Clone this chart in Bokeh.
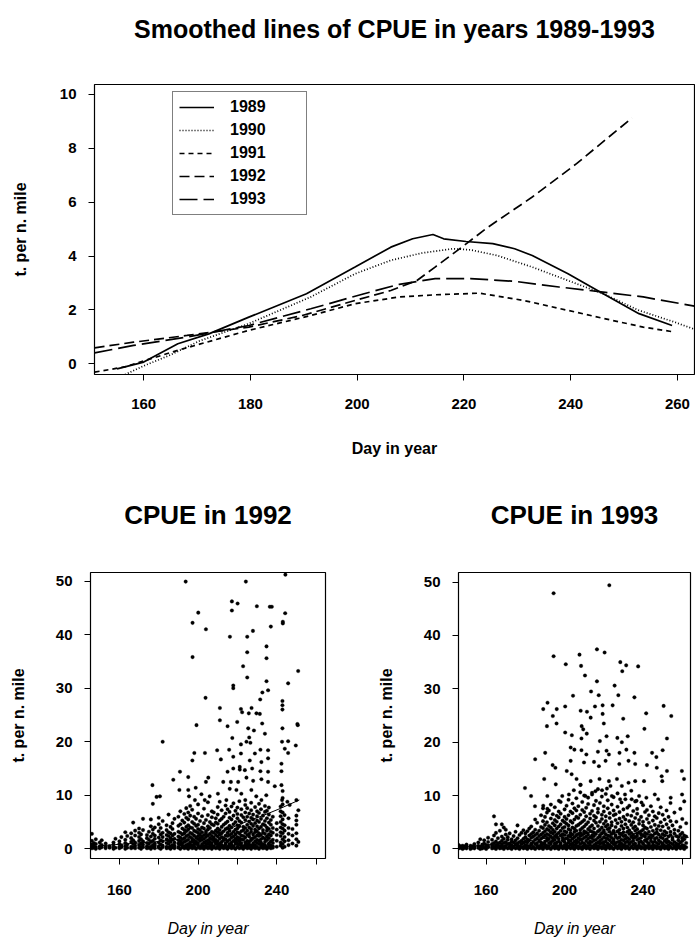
from bokeh.plotting import figure
from bokeh.layouts import column, row
from bokeh.models import Legend, LegendItem, FixedTicker, Title
from bokeh.embed import file_html
from bokeh.resources import INLINE

FONT = "Liberation Sans"

# ---------------- smoothed CPUE curves (top panel) ----------------
day_1989 = [155.0, 160.0, 166.4, 172.2, 179.7, 190.5, 199.6, 206.3, 210.4, 214.2, 216.2, 220.4, 225.4, 229.5, 232.8, 239.5, 246.1, 252.8, 259.0]
cpue_1989 = [-0.19, 0.06, 0.74, 1.11, 1.73, 2.60, 3.59, 4.33, 4.64, 4.80, 4.64, 4.54, 4.46, 4.27, 4.02, 3.34, 2.60, 1.86, 1.42]

day_1990 = [156.0, 160.0, 164.7, 170.5, 179.7, 191.3, 199.6, 206.3, 212.1, 217.9, 221.2, 226.2, 232.8, 239.5, 246.1, 252.8, 259.4, 263.2]
cpue_1990 = [-0.45, -0.08, 0.30, 0.85, 1.49, 2.48, 3.34, 3.84, 4.11, 4.27, 4.23, 4.02, 3.59, 3.09, 2.60, 1.98, 1.55, 1.28]

day_1991 = [150.8, 156.4, 166.4, 179.7, 191.3, 199.6, 207.9, 214.6, 222.9, 231.2, 239.5, 247.8, 253.6, 259.4]
cpue_1991 = [-0.31, -0.12, 0.50, 1.24, 1.79, 2.23, 2.48, 2.56, 2.62, 2.35, 1.98, 1.61, 1.36, 1.18]

day_1992 = [150.8, 158.1, 168.1, 179.7, 189.7, 199.6, 206.3, 211.2, 214.6, 219.6, 224.5, 232.8, 241.1, 251.5]
cpue_1992 = [0.59, 0.80, 1.05, 1.36, 1.79, 2.35, 2.72, 3.09, 3.59, 4.33, 5.07, 6.19, 7.43, 9.13]

day_1993 = [150.8, 158.1, 168.1, 179.7, 191.3, 201.3, 207.9, 214.6, 221.2, 229.5, 237.8, 246.1, 253.6, 263.2]
cpue_1993 = [0.40, 0.68, 0.99, 1.42, 2.04, 2.60, 2.95, 3.16, 3.16, 3.06, 2.85, 2.66, 2.48, 2.14]

years = ["1989", "1990", "1991", "1992", "1993"]
dashes = ["solid", "1 2", "5 4", "10 5", "18 6"]

top_x_ticks = [160, 180, 200, 220, 240, 260]
top_y_ticks = [0, 2, 4, 6, 8, 10]
bottom_x_ticks = [160, 180, 200, 220, 240, 260]
bottom_x_labelled = [160, 200, 240]
bottom_y_ticks = [0, 10, 20, 30, 40, 50]

# ---------------- observed CPUE, 1992 ----------------
sparse_1992 = [
    (193.7, 49.9), (224.3, 49.9), (244.4, 51.2), (217.2, 46.2), (220.1, 45.8), (229.9, 45.3), (236.5, 45.2),
    (237.5, 45.2), (217.2, 44.5), (200.1, 44.1), (244.3, 44.0), (197.2, 42.2), (243.1, 42.4), (243.1, 42.1),
    (204.0, 41.0), (237.0, 41.5), (227.9, 40.7), (216.2, 39.6), (225.0, 39.6), (234.8, 37.8), (225.0, 36.7),
    (197.2, 35.8), (234.8, 35.6), (222.9, 34.1), (250.9, 33.2), (225.0, 32.0), (234.8, 31.3), (245.8, 30.9),
    (217.9, 30.5), (217.9, 30.0), (235.6, 29.6), (232.7, 29.2), (203.8, 28.2), (231.6, 27.9), (242.9, 27.6),
    (242.9, 26.8), (242.9, 26.0), (211.1, 26.3), (221.8, 26.1), (222.4, 25.5), (227.2, 26.3), (225.8, 25.3),
    (229.7, 25.3), (231.4, 25.2), (211.1, 24.0), (199.2, 23.1), (215.0, 22.9), (219.9, 23.7), (225.5, 22.5),
    (228.4, 22.1), (232.6, 23.4), (234.0, 21.5), (250.5, 23.3), (242.9, 22.5), (182.0, 20.0), (217.4, 20.7),
    (226.0, 20.8), (221.8, 19.5), (224.6, 20.0), (226.6, 19.8), (242.7, 20.0), (245.8, 20.1), (244.1, 18.7),
    (245.8, 17.9), (249.7, 19.3), (198.1, 17.9), (203.5, 17.9), (197.1, 16.5), (209.7, 18.4), (215.8, 18.5),
    (211.6, 16.7), (217.9, 17.2), (221.8, 17.8), (228.9, 17.8), (231.7, 18.5), (235.6, 18.4), (226.3, 16.5),
    (235.6, 16.9), (232.2, 16.2), (242.4, 15.9), (190.8, 14.4), (215.0, 14.4), (217.9, 15.0), (221.2, 14.8),
    (221.2, 15.3), (223.8, 14.7), (227.5, 15.0), (231.7, 14.5), (235.6, 14.4), (242.4, 14.5), (187.4, 12.9),
    (176.8, 11.9), (195.0, 13.4), (204.0, 12.5), (205.2, 13.3), (212.8, 12.5), (216.7, 12.5), (220.4, 12.5),
    (224.6, 13.3), (228.0, 12.7), (232.2, 13.0), (235.6, 12.5), (239.0, 11.7), (242.4, 11.9), (178.9, 9.7),
    (180.6, 9.8), (190.5, 11.0), (195.0, 11.0), (198.8, 11.4), (195.4, 9.8), (198.4, 9.1), (201.7, 10.2),
    (203.4, 9.1), (205.9, 9.8), (210.1, 10.3), (214.4, 9.1), (216.1, 11.2), (219.5, 11.0), (222.0, 10.3),
    (224.0, 9.1), (227.1, 11.0), (229.6, 9.8), (232.2, 9.1), (234.7, 10.0), (242.7, 9.1), (245.4, 8.8),
    (250.0, 9.1), (246.6, 8.2), (250.7, 23.1),
]

dense_1992 = [
    (146, [0.1, 0.4, 0.8, 1.5, 2.8]), (147, [0.2, 0.6, 1.1]), (148, [0.0, 0.3, 0.9, 1.8]),
    (150, [0.1, 0.5, 1.2]), (151, [0.3, 0.7, 1.6]), (153, [0.1, 0.4, 1.0]), (155, [0.2, 0.5]),
    (157, [0.0, 0.3, 0.8, 1.2]), (158, [0.2, 1.9]), (160, [0.1, 0.4, 0.9, 1.4]), (161, [0.3, 0.6, 2.2]),
    (163, [0.0, 0.5, 1.1, 1.7, 3.1]), (164, [0.2, 0.8, 2.4]), (166, [0.1, 0.4, 1.3, 2.0, 2.9]),
    (167, [0.3, 0.9, 1.6, 4.9]), (168, [0.1, 0.6, 1.2, 2.5, 3.4]), (170, [0.2, 0.7, 1.5, 2.2, 3.0, 3.8]),
    (171, [0.0, 0.4, 1.0, 1.8, 2.7]), (172, [0.3, 0.8, 1.4, 3.5, 5.6]), (174, [0.1, 0.5, 1.1, 2.0, 2.6]),
    (175, [0.2, 0.9, 1.7, 3.2]), (176, [0.0, 0.4, 1.3, 2.3, 4.2, 5.5]), (177, [0.3, 0.7, 1.5, 2.8, 3.6, 8.4]),
    (178, [0.1, 0.6, 1.0, 1.9, 2.5, 4.0]), (180, [0.2, 0.5, 1.2, 2.1, 3.3, 4.6, 5.8]),
    (181, [0.0, 0.8, 1.6, 2.7, 3.9]), (182, [0.3, 0.6, 1.4, 2.2, 3.0, 5.2]),
    (184, [0.1, 0.4, 1.1, 1.8, 2.6, 3.5, 4.4]), (185, [0.2, 0.9, 1.5, 2.4, 3.1, 6.4]),
    (186, [0.0, 0.5, 1.3, 2.0, 2.9, 4.1]), (187, [0.3, 0.7, 1.7, 2.5, 3.7, 4.8]),
    (188, [0.1, 0.6, 1.2, 1.9, 2.8, 5.6]), (190, [0.2, 0.4, 1.0, 1.6, 2.3, 3.2, 4.3, 6.0]),
    (191, [0.0, 0.8, 1.4, 2.1, 3.0, 4.6, 7.0]), (192, [0.3, 0.6, 1.1, 1.8, 2.7, 3.8, 5.3]),
    (193, [0.1, 0.5, 1.3, 2.0, 2.9, 3.5, 4.9, 6.5]), (194, [0.2, 0.7, 1.5, 2.4, 3.3, 4.1, 5.8, 7.6]),
    (195, [0.0, 0.4, 0.9, 1.7, 2.6, 3.6, 4.4, 5.5, 6.8]), (196, [0.3, 0.8, 1.2, 2.2, 3.0, 4.0, 6.2, 8.0]),
    (197, [0.1, 0.6, 1.4, 1.9, 2.8, 3.9, 5.0, 7.3]), (198, [0.2, 0.5, 1.0, 1.6, 2.5, 3.4, 4.7, 6.0]),
    (199, [0.0, 0.9, 1.3, 2.1, 3.2, 4.3, 5.6]), (200, [0.3, 0.7, 1.1, 1.8, 2.4, 3.0, 3.7, 4.5, 6.6, 8.3]),
    (201, [0.1, 0.4, 1.5, 2.0, 2.7, 3.5, 5.2]), (202, [0.2, 0.6, 0.9, 1.7, 2.3, 3.1, 4.0, 6.1]),
    (203, [0.0, 0.5, 1.2, 1.9, 2.6, 3.8, 4.8, 7.5]), (204, [0.3, 0.8, 1.4, 2.2, 2.9, 3.3, 5.4]),
    (205, [0.1, 0.4, 1.0, 1.6, 2.5, 3.6, 4.2, 6.3, 8.7]), (206, [0.2, 0.7, 1.3, 2.0, 2.8, 3.9, 5.0]),
    (207, [0.0, 0.6, 1.1, 1.8, 2.4, 3.2, 4.6, 5.9, 7.0]), (208, [0.3, 0.5, 1.5, 2.1, 3.0, 4.4, 6.8]),
    (209, [0.1, 0.9, 1.2, 1.7, 2.6, 3.4, 4.9, 5.7]), (210, [0.2, 0.4, 0.8, 1.4, 2.3, 3.1, 3.8, 4.7, 6.4, 7.8]),
    (211, [0.0, 0.6, 1.0, 1.9, 2.7, 3.5, 5.3, 8.8]), (212, [0.3, 0.7, 1.3, 2.2, 2.9, 4.1, 5.6, 7.2]),
    (213, [0.1, 0.5, 1.6, 2.0, 3.3, 4.5, 6.0]), (214, [0.2, 0.8, 1.1, 1.8, 2.5, 3.7, 4.8, 6.6, 8.1]),
    (215, [0.0, 0.4, 1.4, 2.4, 3.0, 3.9, 5.1, 7.4]), (216, [0.3, 0.6, 0.9, 1.7, 2.6, 3.4, 4.3, 5.8, 6.9]),
    (217, [0.1, 0.7, 1.2, 2.1, 2.8, 4.0, 5.5, 7.9]), (218, [0.2, 0.5, 1.5, 2.3, 3.2, 4.6, 6.2, 8.5]),
    (219, [0.0, 0.9, 1.3, 1.9, 2.7, 3.6, 5.0, 7.1]),
    (220, [0.3, 0.4, 1.0, 1.6, 2.2, 3.1, 3.8, 4.4, 5.7, 6.5, 7.7]),
    (221, [0.1, 0.8, 1.4, 2.0, 2.9, 4.2, 5.2, 8.9]), (222, [0.2, 0.6, 1.1, 1.8, 2.5, 3.3, 4.9, 6.3, 7.4]),
    (223, [0.0, 0.5, 1.7, 2.4, 3.5, 4.1, 5.9]), (224, [0.3, 0.7, 1.2, 2.1, 3.0, 3.9, 5.4, 6.8, 8.2]),
    (225, [0.1, 0.4, 0.9, 1.5, 2.6, 3.4, 4.5, 6.0, 7.6]), (226, [0.2, 0.8, 1.3, 2.3, 2.8, 4.0, 5.1, 6.6]),
    (227, [0.0, 0.6, 1.6, 1.9, 3.2, 3.7, 4.7, 5.8, 7.2, 8.6]), (228, [0.3, 0.5, 1.0, 2.0, 2.7, 4.3, 5.5, 6.4]),
    (229, [0.1, 0.7, 1.4, 2.2, 3.1, 3.6, 4.8, 7.8]), (230, [0.2, 0.4, 1.1, 1.7, 2.5, 3.3, 4.2, 5.3, 6.1, 7.0]),
    (231, [0.0, 0.9, 1.5, 2.4, 2.9, 3.8, 5.0, 6.7, 8.4]), (232, [0.3, 0.6, 1.2, 1.8, 2.6, 4.1, 5.6, 7.4]),
    (233, [0.1, 0.5, 0.8, 2.1, 3.0, 3.5, 4.6, 6.2]), (234, [0.2, 0.7, 1.3, 1.9, 2.8, 4.4, 5.2, 6.9, 8.0]),
    (235, [0.0, 0.4, 1.6, 2.3, 3.4, 4.0, 5.7, 7.1]), (236, [0.3, 0.8, 1.0, 2.0, 2.7, 3.7, 4.9, 6.4, 7.7]),
    (237, [0.1, 0.6, 1.4, 2.5, 3.2, 4.5, 5.4]), (238, [0.2, 0.5, 1.1, 1.7, 3.0, 3.9, 6.0]),
    (240, [0.4, 1.5, 2.6, 3.6, 4.8]), (242, [0.6, 1.2, 2.4, 3.1, 4.0, 5.0, 6.1, 7.0, 7.9]),
    (243, [0.2, 0.9, 1.8, 2.9, 3.8, 4.6, 5.5, 6.8, 8.3, 9.5, 10.8]), (244, [0.4, 1.4, 2.2, 3.4, 4.4, 6.3]),
    (246, [0.7, 1.6, 2.8, 3.9, 5.7]), (248, [1.0, 2.5, 3.7]), (250, [0.6, 1.8, 2.9, 4.5, 5.3, 6.2]),
    (251, [1.3, 7.2]),
]

# ---------------- observed CPUE, 1993 ----------------
sparse_1993 = [
    (194.4, 47.9), (222.8, 49.4), (216.5, 37.4), (220.4, 36.8), (194.4, 36.1), (207.6, 36.4), (200.6, 34.6),
    (208.4, 34.3), (228.4, 35.0), (231.4, 34.4), (237.5, 34.2), (229.4, 33.3), (210.4, 32.5), (216.5, 31.4),
    (225.5, 30.6), (204.3, 28.7), (213.5, 29.5), (217.4, 28.8), (227.4, 28.8), (235.6, 28.4), (191.3, 27.4),
    (189.1, 26.2), (196.0, 26.2), (200.3, 26.7), (208.2, 25.9), (211.4, 25.7), (215.5, 26.7), (219.4, 26.9),
    (224.5, 26.9), (219.4, 25.3), (250.5, 26.8), (241.6, 25.4), (254.4, 24.9), (194.0, 24.9), (195.9, 23.5),
    (213.3, 24.6), (229.9, 24.4), (191.0, 23.0), (208.7, 23.0), (209.5, 22.4), (220.0, 23.5), (200.3, 21.8),
    (203.7, 21.3), (208.6, 20.7), (211.3, 21.6), (221.4, 21.1), (226.9, 20.8), (232.2, 21.1), (240.7, 22.5),
    (252.2, 20.7), (218.0, 20.2), (229.2, 20.0), (190.1, 18.0), (203.1, 19.0), (205.0, 18.6), (208.6, 18.5),
    (211.1, 17.7), (217.0, 18.2), (221.4, 18.4), (222.6, 17.7), (228.0, 18.0), (231.5, 18.6), (235.6, 18.0),
    (244.6, 18.0), (246.8, 17.2), (250.0, 18.5), (185.0, 16.8), (193.9, 15.7), (195.3, 15.2), (203.1, 16.5),
    (209.9, 16.2), (215.0, 16.3), (217.5, 15.5), (220.9, 16.5), (227.9, 15.9), (232.6, 16.5), (236.0, 15.9),
    (242.0, 15.7), (247.0, 15.2), (252.2, 14.6), (259.8, 14.6), (189.6, 13.1), (201.1, 14.6), (203.6, 14.0),
    (206.1, 13.1), (208.2, 12.0), (213.3, 12.7), (217.8, 13.1), (222.6, 12.7), (223.4, 11.8), (226.7, 13.1),
    (229.2, 11.8), (232.6, 12.4), (236.0, 12.7), (240.5, 12.7), (249.5, 13.6), (249.8, 12.7), (260.9, 13.1),
    (179.8, 11.4), (182.9, 9.9), (195.5, 12.1), (191.2, 9.9), (198.8, 9.9), (197.1, 9.0), (202.2, 10.2),
    (204.7, 11.0), (210.6, 9.9), (214.0, 10.2), (215.7, 10.8), (219.1, 11.0), (221.6, 11.3), (224.1, 9.9),
    (228.3, 9.3), (230.8, 10.2), (234.2, 9.3), (236.7, 9.0), (239.2, 8.7), (241.7, 9.6), (246.0, 10.2),
    (247.7, 9.3), (254.1, 9.6), (259.9, 10.2), (184.9, 8.0), (189.1, 8.1), (191.2, 7.5),
]

dense_1993 = [
    (146, [0.1, 0.4, 0.7]), (147, [0.2, 0.5]), (148, [0.0, 0.3, 0.6]), (149, [0.2, 0.5]), (150, [0.1, 0.4, 0.8]),
    (152, [0.0, 0.3, 0.6]), (153, [0.2, 0.5]), (154, [0.1, 0.4, 0.9]), (156, [0.2, 0.6, 1.2]),
    (157, [0.0, 0.3, 1.8]), (158, [0.1, 0.5, 0.8]), (159, [0.2, 1.0, 1.6]), (160, [0.0, 0.4, 0.7]),
    (161, [0.3, 0.6, 1.3, 2.1]), (163, [0.1, 0.5, 0.9, 1.7]), (164, [0.2, 0.4, 1.1, 2.5, 6.1]),
    (165, [0.0, 0.7, 1.4, 3.0, 4.6]), (166, [0.3, 0.6, 1.0, 2.0]), (167, [0.1, 0.5, 1.2, 3.4]),
    (168, [0.2, 0.8, 1.5, 2.3, 4.6]), (169, [0.0, 0.4, 1.1, 1.9, 4.0]), (170, [0.3, 0.6, 1.3, 2.7, 3.6]),
    (171, [0.1, 0.9, 1.7, 2.2]), (172, [0.2, 0.5, 1.0, 2.9]), (173, [0.0, 0.7, 1.4, 1.8]),
    (174, [0.3, 0.4, 1.2, 2.4]), (175, [0.1, 0.8, 1.6, 3.2]), (176, [0.2, 0.6, 1.0, 2.0, 4.4]),
    (177, [0.0, 0.5, 1.3, 2.6]), (178, [0.3, 0.9, 1.5, 3.0]), (179, [0.1, 0.4, 1.1, 1.9, 3.5]),
    (180, [0.2, 0.7, 1.4, 2.2, 2.9]), (181, [0.0, 0.6, 1.2, 1.8, 3.3]), (182, [0.3, 0.5, 1.6, 2.5, 3.8]),
    (183, [0.1, 0.8, 1.0, 2.1, 2.8, 4.2]), (184, [0.2, 0.4, 1.3, 2.3, 3.1]),
    (185, [0.0, 0.9, 1.7, 2.6, 3.6, 5.5]), (186, [0.3, 0.6, 1.1, 2.0, 2.9, 4.9]),
    (187, [0.1, 0.5, 1.5, 2.4, 3.4]), (188, [0.2, 0.7, 1.2, 1.9, 2.7, 4.1, 6.3]),
    (189, [0.0, 0.4, 1.0, 2.2, 3.0, 3.9, 5.2, 7.6]), (190, [0.3, 0.8, 1.4, 2.5, 3.3, 4.5, 6.0]),
    (191, [0.1, 0.6, 1.6, 2.1, 2.8, 3.7, 5.0, 6.8]), (192, [0.2, 0.5, 1.1, 1.8, 2.6, 3.5, 4.3, 7.2]),
    (193, [0.0, 0.9, 1.3, 2.3, 3.1, 4.0, 5.7, 8.3]), (194, [0.3, 0.4, 1.5, 2.0, 2.9, 3.6, 4.8, 6.5]),
    (195, [0.1, 0.7, 1.0, 1.7, 2.4, 3.2, 4.4, 5.4, 7.8]), (196, [0.2, 0.6, 1.2, 2.2, 2.7, 3.8, 5.1, 6.2]),
    (197, [0.0, 0.5, 1.4, 1.9, 3.0, 4.2, 5.9, 7.0]), (198, [0.3, 0.8, 1.1, 2.5, 3.4, 4.6, 6.6, 8.8]),
    (199, [0.1, 0.4, 1.6, 2.1, 2.8, 3.9, 5.3]), (200, [0.2, 0.7, 1.3, 1.8, 2.6, 3.3, 4.1, 5.0, 6.0, 7.4]),
    (201, [0.0, 0.6, 0.9, 2.0, 3.1, 4.7, 5.6, 8.1]), (202, [0.3, 0.5, 1.2, 1.7, 2.4, 3.7, 4.4, 6.3, 9.2]),
    (203, [0.1, 0.8, 1.5, 2.3, 2.9, 3.5, 5.2, 7.0]), (204, [0.2, 0.4, 1.0, 1.9, 2.7, 4.0, 4.9, 6.7, 8.5]),
    (205, [0.0, 0.7, 1.4, 2.2, 3.2, 3.8, 5.5, 7.6]),
    (206, [0.3, 0.6, 1.1, 1.6, 2.5, 3.4, 4.3, 6.0, 7.2, 9.5]), (207, [0.1, 0.5, 1.3, 2.0, 2.8, 4.5, 5.8, 8.0]),
    (208, [0.2, 0.9, 1.7, 2.4, 3.0, 3.6, 4.8, 6.4, 10.6, 12.0]), (209, [0.0, 0.4, 1.2, 1.8, 2.6, 3.9, 5.1, 7.3, 8.8]),
    (210, [0.3, 0.7, 1.0, 2.1, 2.9, 3.3, 4.2, 5.4, 6.9, 10.0]), (211, [0.1, 0.6, 1.5, 2.3, 3.1, 4.6, 6.1, 7.7]),
    (212, [0.2, 0.5, 1.1, 1.9, 2.7, 3.7, 5.0, 8.4, 9.6]), (213, [0.0, 0.8, 1.4, 2.2, 3.4, 4.1, 5.7, 6.6]),
    (214, [0.3, 0.4, 1.3, 2.0, 2.5, 3.2, 4.4, 7.1, 10.5]), (215, [0.1, 0.7, 1.6, 2.4, 3.0, 3.8, 5.3, 6.2, 8.2]),
    (216, [0.2, 0.6, 1.0, 1.7, 2.8, 4.9, 5.9, 9.0]), (217, [0.0, 0.5, 1.2, 2.1, 3.3, 4.3, 6.8, 7.5, 11.2]),
    (218, [0.3, 0.9, 1.5, 2.3, 2.6, 3.6, 5.1, 8.6]), (219, [0.1, 0.4, 1.1, 1.8, 2.9, 4.0, 5.6, 6.4, 9.8]),
    (220, [0.2, 0.8, 1.3, 2.2, 3.1, 3.5, 4.7, 7.0, 8.0]), (221, [0.0, 0.6, 1.4, 2.0, 2.7, 4.2, 5.2, 6.1, 10.3]),
    (222, [0.3, 0.5, 1.0, 1.9, 2.5, 3.7, 4.5, 7.6, 9.1]), (223, [0.1, 0.7, 1.6, 2.4, 3.2, 3.9, 5.8, 6.7]),
    (224, [0.2, 0.4, 1.2, 2.1, 2.8, 4.4, 5.0, 8.3]), (225, [0.0, 0.9, 1.5, 1.8, 3.0, 3.4, 6.3, 7.2, 9.7]),
    (226, [0.3, 0.6, 1.1, 2.3, 2.6, 4.1, 5.4, 6.5]), (227, [0.1, 0.5, 1.3, 2.0, 3.3, 4.8, 7.9, 10.4]),
    (228, [0.2, 0.8, 1.4, 2.2, 2.9, 3.6, 5.7, 6.9]), (229, [0.0, 0.4, 1.0, 1.7, 2.7, 4.3, 5.1, 8.7]),
    (230, [0.3, 0.7, 1.6, 2.4, 3.1, 3.8, 6.0, 7.4]), (231, [0.1, 0.6, 1.2, 1.9, 2.5, 4.6, 5.5, 9.3]),
    (232, [0.2, 0.5, 1.4, 2.1, 3.2, 4.0, 6.4, 7.7]), (233, [0.0, 0.9, 1.1, 1.8, 2.8, 3.5, 5.2, 8.1]),
    (234, [0.3, 0.4, 1.3, 2.3, 3.0, 4.5, 6.2, 10.9]), (235, [0.1, 0.8, 1.5, 2.0, 2.6, 3.9, 5.0, 7.1]),
    (236, [0.2, 0.6, 1.0, 2.2, 3.4, 4.2, 5.8, 8.9]), (237, [0.0, 0.5, 1.7, 2.4, 2.9, 3.7, 6.6, 7.5]),
    (238, [0.3, 0.7, 1.2, 1.9, 3.1, 4.7, 5.4, 9.9]), (239, [0.1, 0.4, 1.4, 2.1, 2.7, 3.3, 6.0]),
    (240, [0.2, 0.9, 1.1, 2.5, 3.6, 4.4, 5.1, 8.2]), (241, [0.0, 0.6, 1.6, 2.3, 3.0, 4.0, 6.9]),
    (242, [0.3, 0.5, 1.3, 1.8, 2.8, 3.8, 5.6, 7.3]), (243, [0.1, 0.8, 1.0, 2.2, 3.2, 4.9, 6.3]),
    (244, [0.2, 0.4, 1.5, 2.0, 2.6, 4.1, 8.0]), (245, [0.0, 0.7, 1.2, 2.4, 3.4, 5.3, 7.0]),
    (246, [0.3, 0.6, 1.4, 1.9, 2.9, 4.5, 6.1]), (247, [0.1, 0.5, 1.1, 2.1, 3.1, 3.7, 5.8]),
    (248, [0.2, 0.9, 1.6, 2.7, 4.3, 6.7]), (249, [0.0, 0.4, 1.3, 2.2, 3.5, 5.0, 7.8]),
    (250, [0.3, 0.8, 1.0, 2.0, 2.8, 4.2, 6.4]), (251, [0.1, 0.6, 1.5, 2.5, 3.3, 5.5]),
    (252, [0.2, 0.5, 1.2, 1.8, 3.0, 4.6, 7.2]), (253, [0.0, 0.7, 1.4, 2.3, 3.9, 6.0]),
    (254, [0.3, 0.4, 1.1, 2.6, 3.2, 5.2, 8.6]), (255, [0.1, 0.9, 1.7, 2.1, 4.4]),
    (256, [0.2, 0.6, 1.3, 2.9, 3.6, 6.8]), (257, [0.0, 0.5, 1.0, 2.4, 5.1]),
    (258, [0.3, 0.8, 1.6, 2.2, 3.4]), (259, [0.1, 0.4, 1.2, 2.7, 4.1, 7.5]),
    (260, [0.2, 0.7, 1.5, 2.0, 3.0, 5.6]), (261, [0.0, 0.6, 1.8, 2.5, 8.9]), (262, [0.3, 1.1, 2.3, 4.8]),
]


def flatten(sparse, dense):
    xs = [d for d, v in sparse]
    ys = [v for d, v in sparse]
    for d, vals in dense:
        for v in vals:
            xs.append(d)
            ys.append(v)
    return xs, ys


def style_axes(p, tick_font_size="15px", label_font_size="16px", x_label_style="bold"):
    p.outline_line_color = "black"
    p.outline_line_width = 1.2
    p.xgrid.visible = False
    p.ygrid.visible = False
    p.background_fill_color = "white"
    p.border_fill_color = "white"
    for ax in (p.xaxis[0], p.yaxis[0]):
        ax.axis_line_color = None
        ax.major_tick_in = 0
        ax.major_tick_out = 6
        ax.major_tick_line_color = "black"
        ax.minor_tick_line_color = None
        ax.major_label_text_font = FONT
        ax.major_label_text_font_style = "bold"
        ax.major_label_text_font_size = tick_font_size
        ax.major_label_text_color = "black"
        ax.axis_label_text_font = FONT
        ax.axis_label_text_font_size = label_font_size
        ax.axis_label_text_color = "black"
    p.yaxis[0].axis_label_text_font_style = "bold"
    p.xaxis[0].axis_label_text_font_style = x_label_style


def add_heading(p, text, size, gap):
    # an invisible spacer next to the frame pushes the heading up by `gap` pixels
    p.add_layout(Title(text=" ", text_font_size="10px", standoff=gap, text_color="white"), "above")
    p.add_layout(Title(text=text, text_font=FONT, text_font_style="bold", text_font_size=size,
                       text_color="black", align="center", standoff=0), "above")


# ---------------- top panel ----------------
top = figure(width=695, height=480, x_range=(150.78, 263.2), y_range=(-0.40, 10.37),
             output_backend="svg", toolbar_location=None, title=None,
             min_border_left=94, min_border_right=1, min_border_top=84, min_border_bottom=106,
             x_axis_label="Day in year", y_axis_label="t. per n. mile")
style_axes(top)
top.xaxis.ticker = FixedTicker(ticks=top_x_ticks)
top.yaxis.ticker = FixedTicker(ticks=top_y_ticks)
top.xaxis.major_label_standoff = 18
top.yaxis.major_label_standoff = 12
top.xaxis.axis_label_standoff = 28
top.yaxis.axis_label_standoff = 28
add_heading(top, "Smoothed lines of CPUE in years 1989-1993", "25px", 29)

series = [(day_1989, cpue_1989), (day_1990, cpue_1990), (day_1991, cpue_1991),
          (day_1992, cpue_1992), (day_1993, cpue_1993)]
items = []
for (xs, ys), yr, dash in zip(series, years, dashes):
    r = top.line(xs, ys, line_color="black", line_width=1.7, line_dash=dash)
    items.append(LegendItem(label=yr, renderers=[r]))

legend = Legend(items=items, location=(78, 159), orientation="vertical",
                border_line_color="black", border_line_width=1.2, background_fill_color="white",
                background_fill_alpha=1.0, padding=6, spacing=5, margin=0,
                glyph_width=35, glyph_height=18, label_height=18, label_width=70, label_standoff=16,
                label_text_font=FONT, label_text_font_style="bold", label_text_font_size="16px",
                label_text_color="black")
top.add_layout(legend, "center")


# ---------------- bottom panels ----------------
def scatter_panel(title, width, left, right, x_range, y_range, sparse, dense, line_x, line_y):
    p = figure(width=width, height=465, x_range=x_range, y_range=y_range,
               output_backend="svg", toolbar_location=None, title=None,
               min_border_left=left, min_border_right=right, min_border_top=92, min_border_bottom=87,
               x_axis_label="Day in year", y_axis_label="t. per n. mile")
    style_axes(p, x_label_style="italic")
    p.xaxis.ticker = FixedTicker(ticks=bottom_x_ticks)
    p.xaxis.major_label_overrides = {t: ("" if t not in bottom_x_labelled else str(t)) for t in bottom_x_ticks}
    p.yaxis.ticker = FixedTicker(ticks=bottom_y_ticks)
    p.xaxis.major_label_standoff = 20
    p.yaxis.major_label_standoff = 12
    p.xaxis.axis_label_standoff = 22
    p.yaxis.axis_label_standoff = 26
    add_heading(p, title, "26px", 30)
    xs, ys = flatten(sparse, dense)
    p.scatter(xs, ys, size=3.6, marker="circle", fill_color="black", line_color="black", line_width=0.3)
    p.line(line_x, line_y, line_color="black", line_width=1.0)
    return p


left_panel = scatter_panel("CPUE in 1992", 370, 90, 45, (145.3, 264.8), (-1.8, 51.6),
                           sparse_1992, dense_1992, day_1992, cpue_1992)
right_panel = scatter_panel("CPUE in 1993", 325, 88, 5, (145.9, 264.2), (-1.8, 51.8),
                            sparse_1993, dense_1993, day_1993, cpue_1993)

layout = column(top, row(left_panel, right_panel, spacing=0), spacing=0)

with open("out.html", "w") as f:
    f.write(file_html(layout, INLINE))
